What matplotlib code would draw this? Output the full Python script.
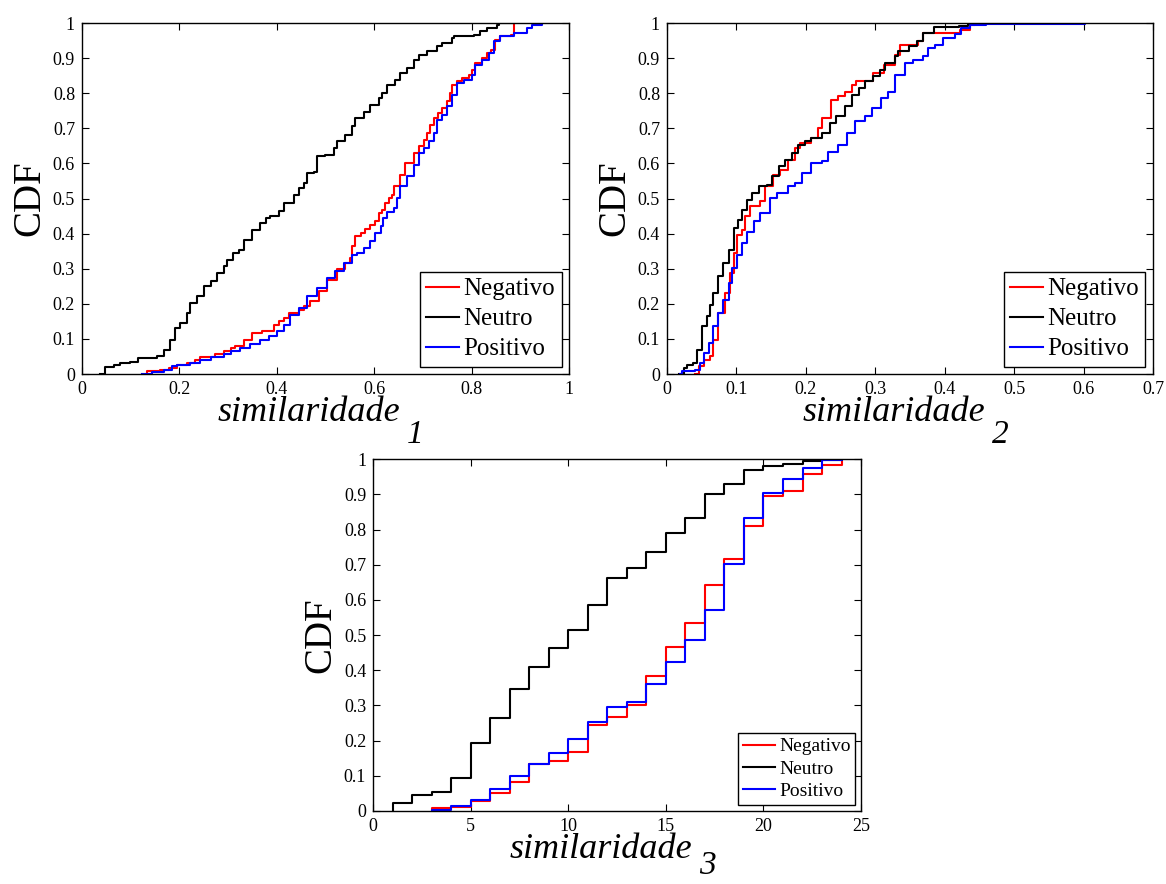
import matplotlib
matplotlib.use('Agg')
import matplotlib.pyplot as plt
import numpy as np

plt.rcParams['font.family'] = ['Liberation Serif', 'DejaVu Serif']

# similaridade_1 (x where the CDF steps, y after the step)
s1_neu_x = [0.038, 0.048, 0.065, 0.079, 0.099, 0.116, 0.154, 0.168, 0.181, 0.192, 0.202, 0.216,
            0.222, 0.236, 0.250, 0.264, 0.277, 0.291, 0.298, 0.311, 0.322, 0.332, 0.349, 0.366,
            0.377, 0.387, 0.404, 0.414, 0.435, 0.445, 0.455, 0.462, 0.476, 0.483, 0.500, 0.517,
            0.524, 0.541, 0.554, 0.561, 0.579, 0.592, 0.609, 0.616, 0.626, 0.643, 0.654, 0.667,
            0.681, 0.691, 0.708, 0.729, 0.739, 0.760, 0.763, 0.804, 0.818, 0.832, 0.852, 0.856, 0.886]
s1_neu_y = [0.0, 0.020, 0.027, 0.031, 0.033, 0.046, 0.050, 0.069, 0.098, 0.131, 0.145, 0.174,
            0.202, 0.221, 0.250, 0.264, 0.288, 0.307, 0.326, 0.345, 0.354, 0.383, 0.411, 0.430,
            0.444, 0.449, 0.464, 0.487, 0.511, 0.530, 0.544, 0.573, 0.577, 0.620, 0.625, 0.644,
            0.663, 0.682, 0.706, 0.729, 0.748, 0.767, 0.786, 0.801, 0.824, 0.839, 0.858, 0.872,
            0.896, 0.910, 0.919, 0.934, 0.943, 0.957, 0.964, 0.967, 0.976, 0.986, 0.995, 1.0, 1.0]

s1_neg_x = [0.133, 0.161, 0.178, 0.195, 0.216, 0.233, 0.243, 0.274, 0.291, 0.305, 0.315, 0.332,
            0.349, 0.370, 0.394, 0.404, 0.414, 0.425, 0.445, 0.455, 0.469, 0.486, 0.503, 0.524,
            0.541, 0.551, 0.555, 0.561, 0.572, 0.582, 0.592, 0.602, 0.609, 0.616, 0.623, 0.630,
            0.637, 0.640, 0.654, 0.664, 0.681, 0.691, 0.702, 0.708, 0.715, 0.722, 0.732, 0.739,
            0.750, 0.756, 0.760, 0.770, 0.780, 0.794, 0.801, 0.808, 0.821, 0.832, 0.839, 0.849,
            0.859, 0.880, 0.887]
s1_neg_y = [0.008, 0.012, 0.017, 0.027, 0.031, 0.041, 0.048, 0.057, 0.065, 0.074, 0.081, 0.098,
            0.117, 0.124, 0.141, 0.150, 0.160, 0.174, 0.183, 0.195, 0.207, 0.236, 0.269, 0.299,
            0.316, 0.330, 0.364, 0.392, 0.402, 0.413, 0.425, 0.435, 0.459, 0.468, 0.487, 0.501,
            0.511, 0.535, 0.568, 0.601, 0.630, 0.649, 0.668, 0.687, 0.710, 0.729, 0.744, 0.758,
            0.777, 0.801, 0.824, 0.834, 0.843, 0.853, 0.867, 0.886, 0.900, 0.915, 0.924, 0.952,
            0.962, 0.967, 1.0]

s1_pos_x = [0.123, 0.144, 0.168, 0.185, 0.195, 0.222, 0.243, 0.264, 0.291, 0.305, 0.325, 0.346,
            0.366, 0.383, 0.401, 0.414, 0.428, 0.445, 0.462, 0.483, 0.503, 0.520, 0.537, 0.555,
            0.565, 0.579, 0.592, 0.602, 0.613, 0.619, 0.626, 0.640, 0.647, 0.654, 0.667, 0.681,
            0.691, 0.702, 0.712, 0.722, 0.729, 0.739, 0.750, 0.760, 0.770, 0.784, 0.801, 0.808,
            0.821, 0.835, 0.845, 0.859, 0.887, 0.914, 0.924, 0.945]
s1_pos_y = [0.0, 0.005, 0.012, 0.022, 0.026, 0.031, 0.039, 0.048, 0.057, 0.067, 0.074, 0.086,
            0.096, 0.107, 0.122, 0.141, 0.169, 0.188, 0.221, 0.245, 0.274, 0.293, 0.316, 0.340,
            0.345, 0.359, 0.378, 0.402, 0.421, 0.444, 0.463, 0.473, 0.501, 0.535, 0.563, 0.596,
            0.630, 0.644, 0.663, 0.687, 0.725, 0.739, 0.763, 0.796, 0.829, 0.839, 0.853, 0.881,
            0.896, 0.915, 0.948, 0.964, 0.973, 0.986, 0.995, 1.0]

# similaridade_2
s2_neu_x = [0.017, 0.024, 0.029, 0.038, 0.043, 0.050, 0.058, 0.062, 0.067, 0.074, 0.081, 0.089,
            0.096, 0.103, 0.108, 0.115, 0.122, 0.132, 0.144, 0.151, 0.161, 0.170, 0.180, 0.189,
            0.199, 0.208, 0.223, 0.235, 0.244, 0.256, 0.266, 0.276, 0.285, 0.297, 0.307, 0.314,
            0.328, 0.333, 0.348, 0.360, 0.369, 0.384, 0.420, 0.434, 0.441, 0.460]
s2_neu_y = [0.0, 0.017, 0.027, 0.031, 0.069, 0.136, 0.164, 0.198, 0.231, 0.278, 0.316, 0.354,
            0.416, 0.440, 0.468, 0.497, 0.516, 0.535, 0.539, 0.563, 0.592, 0.611, 0.630, 0.653,
            0.663, 0.672, 0.687, 0.715, 0.734, 0.763, 0.796, 0.815, 0.834, 0.848, 0.867, 0.886,
            0.905, 0.919, 0.934, 0.948, 0.972, 0.989, 0.992, 0.998, 1.0, 1.0]

s2_neg_x = [0.041, 0.046, 0.053, 0.062, 0.067, 0.074, 0.084, 0.091, 0.096, 0.101, 0.108, 0.113,
            0.120, 0.134, 0.141, 0.153, 0.163, 0.175, 0.185, 0.192, 0.208, 0.218, 0.223, 0.237,
            0.247, 0.256, 0.266, 0.273, 0.297, 0.312, 0.328, 0.336, 0.362, 0.369, 0.422, 0.436,
            0.443]
s2_neg_y = [0.0, 0.022, 0.041, 0.050, 0.098, 0.174, 0.231, 0.288, 0.345, 0.397, 0.411, 0.449,
            0.478, 0.492, 0.535, 0.568, 0.582, 0.611, 0.644, 0.658, 0.672, 0.701, 0.729, 0.782,
            0.791, 0.805, 0.824, 0.834, 0.858, 0.881, 0.910, 0.938, 0.948, 0.972, 0.981, 0.995,
            1.0]

s2_pos_x = [0.019, 0.022, 0.041, 0.048, 0.053, 0.060, 0.067, 0.074, 0.081, 0.089, 0.093, 0.101,
            0.108, 0.115, 0.125, 0.134, 0.149, 0.158, 0.175, 0.185, 0.194, 0.208, 0.223, 0.232,
            0.247, 0.259, 0.271, 0.285, 0.295, 0.309, 0.319, 0.328, 0.343, 0.355, 0.369, 0.376,
            0.386, 0.398, 0.415, 0.424, 0.436, 0.460, 0.602]
s2_pos_y = [0.0, 0.008, 0.012, 0.031, 0.060, 0.088, 0.136, 0.174, 0.212, 0.259, 0.302, 0.340,
            0.373, 0.406, 0.435, 0.459, 0.501, 0.516, 0.535, 0.544, 0.573, 0.601, 0.606, 0.634,
            0.653, 0.687, 0.720, 0.734, 0.758, 0.786, 0.805, 0.853, 0.886, 0.896, 0.905, 0.929,
            0.938, 0.957, 0.970, 0.986, 0.995, 0.998, 1.0]

# similaridade_3 (integer valued)
s3_neu_x = list(range(1, 25))
s3_neu_y = [0.022, 0.045, 0.055, 0.093, 0.192, 0.265, 0.347, 0.410, 0.464, 0.515, 0.586, 0.662,
            0.690, 0.737, 0.790, 0.834, 0.901, 0.929, 0.968, 0.981, 0.987, 0.995, 0.998, 1.0]
s3_neg_x = list(range(3, 25))
s3_neg_y = [0.009, 0.012, 0.027, 0.050, 0.083, 0.133, 0.142, 0.169, 0.243, 0.266, 0.301, 0.384,
            0.466, 0.534, 0.643, 0.717, 0.809, 0.894, 0.910, 0.958, 0.984, 1.0]
s3_pos_x = list(range(3, 25))
s3_pos_y = [0.003, 0.014, 0.031, 0.063, 0.100, 0.133, 0.166, 0.206, 0.252, 0.295, 0.310, 0.361,
            0.423, 0.486, 0.570, 0.702, 0.834, 0.903, 0.944, 0.974, 0.998, 1.0]

labels = ['Negativo', 'Neutro', 'Positivo']
colors = ['#ff0000', '#000000', '#0000ff']


def cdf_panel(ax, series, xmax, xticks, sub, sub_dy, legsize, handlelen, labspace):
    for (x, y), lab, c in zip(series, labels, colors):
        ax.step(np.r_[x[0], x], np.r_[0.0, y], where='post', color=c, lw=1.5, label=lab)
    ax.set_xlim(0, xmax)
    ax.set_ylim(0, 1)
    ax.set_xticks(xticks)
    ax.set_yticks(np.arange(0, 1.01, 0.1))
    ax.xaxis.set_major_formatter(plt.FormatStrFormatter('%g'))
    ax.yaxis.set_major_formatter(plt.FormatStrFormatter('%g'))
    ax.tick_params(direction='in', top=True, right=True, length=5, width=0.8,
                   labelsize=13, pad=5)
    for s in ax.spines.values():
        s.set_linewidth(1.0)
    ax.set_ylabel('CDF', fontsize=28, labelpad=3)
    ax.set_xlabel('similaridade', fontsize=26, style='italic', va='top')
    ax.xaxis.set_label_coords(0.466, -0.062)
    ax.annotate(sub, xy=(1, 0), xycoords=ax.xaxis.label, xytext=(7, sub_dy),
                textcoords='offset pixels', fontsize=24, style='italic', va='baseline')
    leg = ax.legend(loc='lower right', fontsize=legsize, fancybox=False, framealpha=1,
                    edgecolor='k', borderaxespad=0.3, handlelength=handlelen,
                    handletextpad=0.2, borderpad=0.25, labelspacing=labspace)
    leg.get_frame().set_linewidth(1.0)


fig = plt.figure(figsize=(11.66, 8.84), dpi=100)
ax1 = fig.add_axes([0.0703, 0.5769, 0.4177, 0.397])
ax2 = fig.add_axes([0.572, 0.5769, 0.4168, 0.397])
ax3 = fig.add_axes([0.320, 0.0826, 0.4185, 0.398])

cdf_panel(ax1, [(s1_neg_x, s1_neg_y), (s1_neu_x, s1_neu_y), (s1_pos_x, s1_pos_y)],
          1, np.arange(0, 1.01, 0.2), '1', -14, 18, 1.3, 0.3)
cdf_panel(ax2, [(s2_neg_x, s2_neg_y), (s2_neu_x, s2_neu_y), (s2_pos_x, s2_pos_y)],
          0.7, np.arange(0, 0.71, 0.1), '2', -14, 18, 1.3, 0.3)
cdf_panel(ax3, [(s3_neg_x, s3_neg_y), (s3_neu_x, s3_neu_y), (s3_pos_x, s3_pos_y)],
          25, np.arange(0, 26, 5), '3', -8, 14, 1.65, 0.25)

fig.savefig('out.png', dpi=100)
